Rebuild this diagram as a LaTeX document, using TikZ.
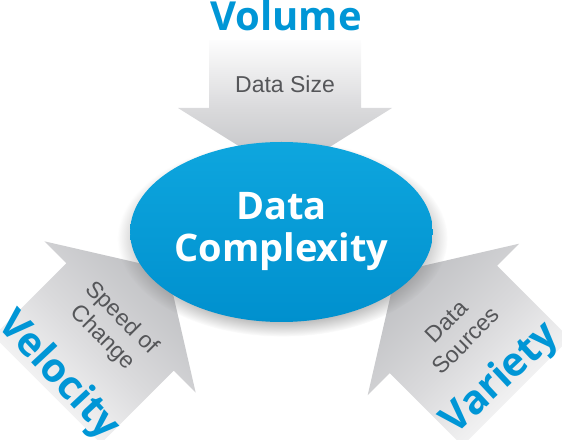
\documentclass[tikz,border=0pt]{standalone}
\usepackage{fontspec}
\setmainfont{Liberation Sans}
\newfontfamily\headfont{Open Sans}
\usetikzlibrary{shapes.geometric,shadows}
\definecolor{vblue}{RGB}{0,150,214}
\definecolor{elltop}{RGB}{14,166,222}
\definecolor{ellbot}{RGB}{0,144,206}
\definecolor{arrtail}{RGB}{253,253,253}
\definecolor{arrmid}{RGB}{218,218,220}
\definecolor{arrtip}{RGB}{190,191,194}
\definecolor{labgray}{RGB}{85,86,89}

\begin{document}
\begin{tikzpicture}[x=1pt,y=1pt,
  vword/.style={font=\headfont\bfseries\fontsize{40}{40}\selectfont,text=vblue,inner sep=0pt},
  sublab/.style={font=\fontsize{23}{27}\selectfont,text=labgray,align=center,inner sep=0pt}]
\useasboundingbox (0,0) rectangle (562,439);
\newcommand{\fatarrow}[2]{\shade[top color=arrtail,bottom color=arrtip,middle color=arrmid,shading angle=#1] (0,0) -- (-107,67) -- (-76,67) -- (-76,#2) -- (76,#2) -- (76,67) -- (107,67) -- cycle;}
\begin{scope}[shift={(285,264)}]
\fatarrow{0}{135}
\end{scope}
\begin{scope}[shift={(167.4,169.4)},rotate=135]
\fatarrow{135}{170}
\end{scope}
\begin{scope}[shift={(396,167)},rotate=-135]
\fatarrow{225}{170}
\end{scope}
\node[ellipse,minimum width=301pt,minimum height=180pt,inner sep=0pt,
  top color=elltop,bottom color=ellbot,
  circular drop shadow={shadow xshift=1pt,shadow yshift=-6pt,shadow scale=1.09,opacity=.5},
  text=white,align=center,font=\headfont\bfseries\fontsize{38}{42}\selectfont] (cplx) at (281.5,207) {Data\\Complexity};
\node[vword,anchor=base] (vol) at (286,408) {Volume};
\node[sublab,anchor=base] (size) at (285,346) {Data Size};
\node[vword,rotate=-47] (velo) at (58,63) {Velocity};
\node[vword,rotate=43] (vari) at (501,60) {Variety};
\node[sublab,rotate=-45] (speed) at (112,111) {Speed of\\Change};
\node[sublab,rotate=45] (srcs) at (456,108) {Data\\Sources};
\end{tikzpicture}
\end{document}
